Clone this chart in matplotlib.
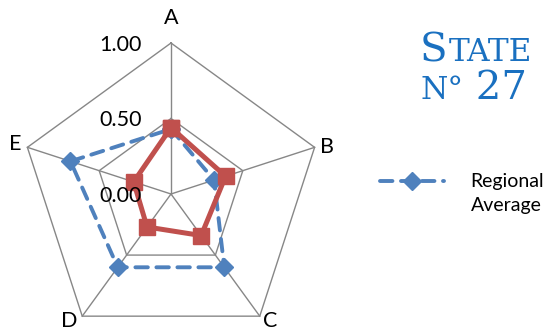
import numpy as np
import matplotlib
matplotlib.use('Agg')
import matplotlib.pyplot as plt
import matplotlib.transforms as mtransforms
from matplotlib.offsetbox import TextArea, HPacker, VPacker, AnchoredOffsetbox

# data
categories = ['A', 'B', 'C', 'D', 'E']
state_values = [0.44, 0.38, 0.34, 0.27, 0.26]
regional_values = [0.43, 0.30, 0.60, 0.60, 0.70]
tick_values = [0.0, 0.5, 1.0]
tick_labels = ['0.00', '0.50', '1.00']

RED = '#C0504D'
BLUE = '#4F81BD'
GRID = '#878787'
TITLE = '#1A70C0'
FONT = 'Lato'

W, H = 553, 331
fig = plt.figure(figsize=(W / 100, H / 100), dpi=100)

# polar axes placed so center sits at (171, 194) px, radius 151 px
cx, cy, R = 171, 194, 151
ax = fig.add_axes([(cx - R) / W, (H - cy - R) / H, 2 * R / W, 2 * R / H],
                  projection='polar')
ax.set_theta_zero_location('N')
ax.set_theta_direction(-1)
ax.set_ylim(0, 1)
ax.grid(False)
ax.spines['polar'].set_visible(False)
ax.set_xticks([])
ax.set_yticks([])
ax.patch.set_visible(False)

n = len(categories)
angles = np.linspace(0, 2 * np.pi, n, endpoint=False)
closed = np.concatenate([angles, angles[:1]])

# pentagon grid + spokes
for v in tick_values[1:]:
    ax.plot(closed, [v] * (n + 1), color=GRID, lw=1.0, zorder=1, clip_on=False)
for a in angles:
    ax.plot([a, a], [0, 1], color=GRID, lw=1.0, zorder=1, clip_on=False)

# tick labels left of the A spoke
off = mtransforms.offset_copy(ax.transData, fig=fig, x=-29, y=-2, units='dots')
for v, lab in zip(tick_values, tick_labels):
    ax.text(0, v, lab, transform=off, ha='right', va='center', fontsize=15.5,
            family=FONT, zorder=5)

# category labels, nudged off the outer vertices (pixels)
label_offsets = [(0, 25), (12, 0), (10, -4.5), (-13.5, -4.5), (-12, 3)]
for a, lab, (dx, dy) in zip(angles, categories, label_offsets):
    tr = mtransforms.offset_copy(ax.transData, fig=fig, x=dx, y=dy, units='dots')
    ax.text(a, 1.0, lab, transform=tr, ha='center', va='center',
            fontsize=15.5, family=FONT)

# series
reg = regional_values + regional_values[:1]
st = state_values + state_values[:1]
reg_line, = ax.plot(closed, reg, color=BLUE, lw=2.8, ls=(0, (3.2, 2.2)),
                    dash_capstyle='round', marker='D', markersize=9,
                    zorder=3, clip_on=False)
ax.plot(closed, st, color=RED, lw=3.6, marker='s', markersize=12,
        zorder=4, clip_on=False)

# legend: handle sits on the first line of the label, second line wraps below
leg = fig.legend([reg_line], ['Regional'], loc='center left',
                 bbox_to_anchor=(380 / W, 1 - 182 / H), frameon=False,
                 borderaxespad=0, borderpad=0,
                 handlelength=3.3, handletextpad=1.35,
                 prop={'family': FONT, 'size': 14})
fig.text(471 / W, 1 - 205 / H, 'Average', ha='left', va='center',
         fontsize=14, family=FONT)

# title in small caps look
def ta(s, size):
    return TextArea(s, textprops=dict(size=size, color=TITLE, family='DejaVu Serif'))

line1 = HPacker(children=[ta('S', 29), ta('TATE', 22.5)],
                align='baseline', pad=0, sep=1)
line2 = HPacker(children=[ta('N°', 22.5), ta(' 27', 29)],
                align='baseline', pad=0, sep=0)
title_box = VPacker(children=[line1, line2], align='left', pad=0, sep=1)
anch = AnchoredOffsetbox(loc='upper left', child=title_box, frameon=False,
                         bbox_to_anchor=(420 / W, 1 - 32 / H),
                         bbox_transform=fig.transFigure, borderpad=0, pad=0)
fig.add_artist(anch)

fig.savefig('out.png', dpi=100)
